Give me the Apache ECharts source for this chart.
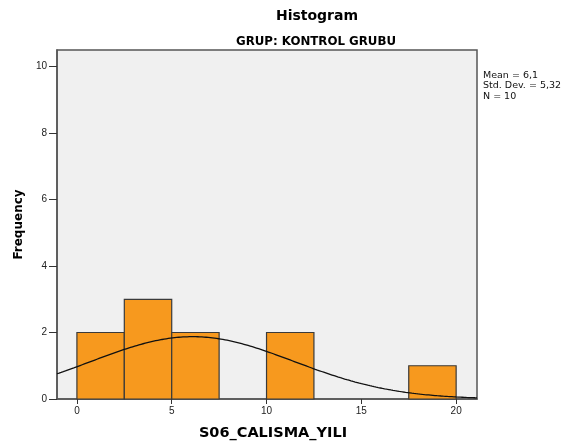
<!DOCTYPE html>
<html>
<head>
<meta charset="utf-8">
<script src="https://cdn.jsdelivr.net/npm/echarts@6/dist/echarts.min.js"></script>
<style>
  html, body { margin: 0; padding: 0; background: #fff; }
  #chart { width: 572px; height: 446px; }
</style>
</head>
<body>
<div id="chart"></div>
<script>
// Histogram bins (lower edge, width 2.5) and their frequencies
const binStarts = [0, 2.5, 5, 7.5, 10, 12.5, 15, 17.5];
const binWidth = 2.5;
const frequencies = [2, 3, 2, 0, 2, 0, 0, 1];

// Summary statistics shown next to the plot
const statMean = 6.1;
const statSd = 5.32;
const statN = 10;

// Tick labels
const xTicks = [0, 5, 10, 15, 20];
const yTicks = [0, 2, 4, 6, 8, 10];

const xMin = -1.05, xMax = 21.1;

// Fitted normal curve scaled to counts per bin
const curve = [];
for (let i = 0; i <= 200; i++) {
  const x = xMin + (xMax - xMin) * i / 200;
  const z = (x - statMean) / statSd;
  const y = statN * binWidth * Math.exp(-0.5 * z * z) / (statSd * Math.sqrt(2 * Math.PI));
  curve.push([x, y]);
}

const bars = binStarts.map((s, i) => [s, s + binWidth, frequencies[i]]).filter(d => d[2] > 0);

const font = 'Arial, "Liberation Sans", sans-serif';
const wideFont = '"DejaVu Sans", sans-serif';
const chart = echarts.init(document.getElementById('chart'));
chart.setOption({
  animation: false,
  backgroundColor: '#ffffff',
  title: [
    { text: 'Histogram', left: 312, top: 4, textAlign: 'center',
      textStyle: { fontFamily: wideFont, fontSize: 14, fontWeight: 'bold', color: '#000' } },
    { text: 'GRUP: KONTROL GRUBU', left: 311, top: 31, textAlign: 'center',
      textStyle: { fontFamily: wideFont, fontSize: 11.8, fontWeight: 'bold', color: '#000' } }
  ],
  grid: { left: 57, right: 95, top: 50, bottom: 46, show: true,
    backgroundColor: '#F0F0F0', borderColor: '#555', borderWidth: 1.5 },
  xAxis: {
    type: 'value', min: xMin, max: xMax,
    name: 'S06_CALISMA_YILI', nameLocation: 'middle', nameGap: 27,
    nameTextStyle: { fontFamily: wideFont, fontSize: 14.5, fontWeight: 'bold', color: '#000', padding: [0, 0, 0, 12] },
    axisLine: { show: true, onZero: false, lineStyle: { color: '#555', width: 1.5 } },
    axisTick: { show: true, length: 5, customValues: xTicks, lineStyle: { color: '#333' } },
    axisLabel: { customValues: xTicks, fontFamily: font, fontSize: 10, color: '#222', margin: 7 },
    splitLine: { show: false }
  },
  yAxis: {
    type: 'value', min: 0, max: 10.5,
    name: 'Frequency', nameLocation: 'middle', nameGap: 28,
    nameTextStyle: { fontFamily: wideFont, fontSize: 12, fontWeight: 'bold', color: '#000', padding: [0, 0, 4, 0] },
    axisLine: { show: true, onZero: false, lineStyle: { color: '#555', width: 1.5 } },
    axisTick: { show: true, inside: false, length: 8, customValues: yTicks, lineStyle: { color: '#333' } },
    axisLabel: { customValues: yTicks, fontFamily: font, fontSize: 10, color: '#222', margin: 10 },
    splitLine: { show: false }
  },
  graphic: [
    { type: 'text', left: 483, top: 70,
      style: { text: 'Mean = 6,1\nStd. Dev. = 5,32\nN = 10', font: '9.5px ' + wideFont, fill: '#111', lineHeight: 10.5 } }
  ],
  series: [
    {
      type: 'custom',
      data: bars,
      renderItem: function (params, api) {
        const p0 = api.coord([api.value(0), 0]);
        const p1 = api.coord([api.value(1), api.value(2)]);
        return {
          type: 'rect',
          shape: { x: p0[0], y: p1[1], width: p1[0] - p0[0], height: p0[1] - p1[1] },
          style: { fill: '#F7991E', stroke: '#3a3a3a', lineWidth: 1.2 }
        };
      },
      encode: { x: [0, 1], y: 2 }
    },
    {
      type: 'line', data: curve, showSymbol: false, smooth: false,
      lineStyle: { color: '#111', width: 1.3 }, z: 5
    }
  ]
});
</script>
</body>
</html>
